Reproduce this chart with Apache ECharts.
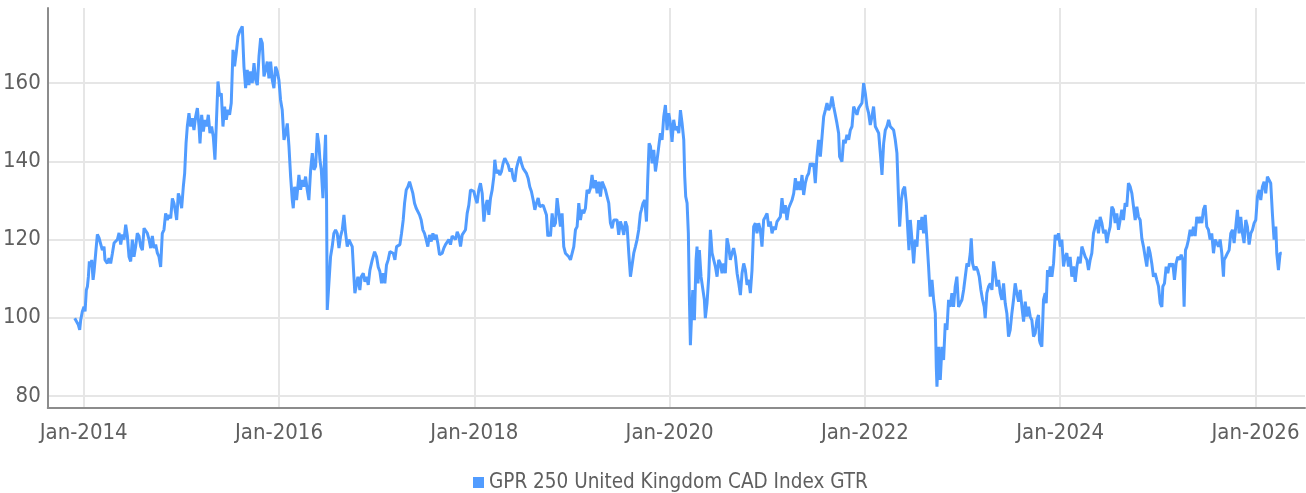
<!DOCTYPE html>
<html>
<head>
<meta charset="utf-8">
<title>GPR 250 United Kingdom CAD Index GTR</title>
<script src="https://cdn.jsdelivr.net/npm/echarts@6.0.0/dist/echarts.min.js"></script>
<style>
  html, body { margin: 0; padding: 0; background: #fff; }
  #main { width: 1306px; height: 493px; }
</style>
</head>
<body>
<div id="main"></div>
<script>
// index level, x = decimal year
var seg2014 = [[2013.908,99.9],[2013.928,99.0],[2013.945,98.2],[2013.959,96.9],[2013.969,99.4],[2013.986,101.6],[2014.003,102.8],[2014.014,101.6],[2014.027,107.1],[2014.038,108],[2014.048,110.5],[2014.058,114.4],[2014.072,113],[2014.082,114.8],[2014.096,109.7],[2014.106,111.8],[2014.123,116.6],[2014.140,121.3],[2014.157,120.4],[2014.174,120.4],[2014.191,117.3],[2014.208,118.2],[2014.218,114.8],[2014.242,113.9],[2014.259,115.2],[2014.276,113.9],[2014.294,116.5],[2014.311,119.1],[2014.328,119.6],[2014.345,120],[2014.362,121.7],[2014.379,118.7],[2014.396,121.3],[2014.413,120],[2014.430,123.8],[2014.447,120.9],[2014.464,115.6],[2014.481,114.4],[2014.498,120],[2014.515,115.6],[2014.532,118.2],[2014.549,121.6],[2014.566,120.9],[2014.584,118.2],[2014.601,117.3],[2014.618,122.9],[2014.635,123.3],[2014.652,121.6],[2014.669,120],[2014.686,117.8],[2014.703,120.9],[2014.720,117.8],[2014.737,118.7],[2014.754,116.6],[2014.771,115.6],[2014.788,113],[2014.805,121.6],[2014.822,122.5],[2014.839,126.7],[2014.856,125],[2014.874,126.3],[2014.891,125.4],[2014.908,130.5],[2014.925,129.2],[2014.942,126.7],[2014.952,125],[2014.969,131.8],[2014.986,130.5],[2015.003,128],[2015.020,133.5],[2015.034,137],[2015.048,144.6],[2015.061,148.9],[2015.078,152.3],[2015.095,148.9],[2015.112,151],[2015.129,148],[2015.146,151.4],[2015.164,153.6],[2015.181,148.9],[2015.191,144.6],[2015.208,151.9],[2015.225,147.6],[2015.242,150.6],[2015.259,148.9],[2015.276,151.9],[2015.293,147.2],[2015.310,148.9],[2015.327,146.3],[2015.344,140.4],[2015.358,149.4],[2015.375,160.4],[2015.392,156.6],[2015.409,157.4],[2015.426,148.9],[2015.443,154],[2015.460,150.6],[2015.477,153.2],[2015.494,151.9],[2015.511,154.9],[2015.529,168.5],[2015.545,164.3],[2015.562,167.7],[2015.580,171.9],[2015.597,173.2]]

var seg2016 = [[2015.624,174.5],[2015.641,164.2],[2015.658,158.7],[2015.675,163.4],[2015.692,159.5],[2015.709,163],[2015.726,160],[2015.744,165.1],[2015.761,160.8],[2015.778,159.5],[2015.795,166.8],[2015.812,171.5],[2015.829,170.2],[2015.846,161.7],[2015.863,163.4],[2015.880,165.5],[2015.897,161.2],[2015.914,165.5],[2015.931,160.8],[2015.948,158.7],[2015.965,164.2],[2015.982,163],[2015.999,160.8],[2016.016,155.7],[2016.033,153.1],[2016.051,145.5],[2016.068,147.2],[2016.085,149.7],[2016.102,143.8],[2016.119,136.1],[2016.136,130.1],[2016.146,128],[2016.160,133.5],[2016.180,130.1],[2016.204,136.5],[2016.221,132.7],[2016.238,135.2],[2016.255,133.5],[2016.272,136.1],[2016.289,132.7],[2016.306,130.1],[2016.324,137.8],[2016.341,142.1],[2016.358,137.8],[2016.375,138.7],[2016.392,147.2],[2016.409,144.2],[2016.419,140.4],[2016.433,137.8],[2016.450,130.6],[2016.467,141.2],[2016.477,146.8],[2016.487,130.1],[2016.494,102],[2016.511,101.6],[2016.528,115.6],[2016.545,118.2],[2016.562,121.6],[2016.579,122.5],[2016.596,121.6],[2016.614,117.8],[2016.631,120.9],[2016.648,122.5],[2016.665,126.3],[2016.682,121.6],[2016.699,118.2],[2016.716,120],[2016.733,120.4],[2016.750,118.2],[2016.767,110.5],[2016.777,106.3],[2016.794,106.3],[2016.808,110.5],[2016.828,107.1],[2016.842,110.5],[2016.863,111.4],[2016.880,109.2],[2016.897,110.5],[2016.914,108.4],[2016.931,112.2],[2016.955,114.8],[2016.979,116.9],[2016.999,115.6],[2017.016,113],[2017.033,111.8],[2017.050,108.8],[2017.067,111.4],[2017.084,108.8],[2017.101,113.5],[2017.118,114.8],[2017.136,116.9],[2017.153,117.3],[2017.170,116.5],[2017.187,114.8],[2017.204,118.2],[2017.221,117.8],[2017.238,118.7],[2017.255,121.6],[2017.272,125],[2017.286,129.3],[2017.303,132.7],[2017.320,133.5],[2017.337,134.8],[2017.354,134.4],[2017.371,131.8],[2017.388,129.3],[2017.405,128],[2017.422,128.4],[2017.439,126.3],[2017.456,125],[2017.473,122.5],[2017.490,121.6],[2017.507,120],[2017.524,118.2],[2017.541,121.2],[2017.559,119.5],[2017.576,121.6],[2017.593,120],[2017.610,121.2],[2017.627,119],[2017.644,116.1]]

var seg2018 = [[2017.671,116.5],[2017.688,117.8],[2017.705,118.7],[2017.722,118.2],[2017.739,120],[2017.756,118.7],[2017.773,120.9],[2017.791,120.4],[2017.808,120],[2017.825,122],[2017.842,120.9],[2017.859,118.2],[2017.876,121.2],[2017.893,120.9],[2017.910,122.5],[2017.927,126.7],[2017.944,128.8],[2017.961,132.7],[2017.978,133.1],[2017.995,132.3],[2018.012,130.6],[2018.029,129.3],[2018.046,132.7],[2018.063,134.4],[2018.081,131.8],[2018.098,124.6],[2018.115,128.4],[2018.132,130.1],[2018.149,126.3],[2018.166,130.6],[2018.183,132.7],[2018.200,136.1],[2018.210,140.4],[2018.227,136.9],[2018.244,137.8],[2018.261,136.5],[2018.278,137.4],[2018.295,139.5],[2018.312,140.8],[2018.330,139.9],[2018.347,139.1],[2018.364,137.4],[2018.381,138.2],[2018.398,135.7],[2018.415,134.8],[2018.432,138.2],[2018.449,139.9],[2018.466,141.2],[2018.483,139.5],[2018.500,138.2],[2018.517,137.8],[2018.534,136.9],[2018.551,135.7],[2018.568,133.5],[2018.585,132.3],[2018.603,130.1],[2018.620,127.6],[2018.637,129.3],[2018.654,130.6],[2018.671,128.4],[2018.688,128.8],[2018.705,128.8],[2018.722,128.4],[2018.739,126.3],[2018.753,120.8],[2018.770,122],[2018.780,120.8],[2018.797,126.7],[2018.814,123.3],[2018.831,124.2],[2018.848,130.6],[2018.865,131],[2018.882,123.3],[2018.899,126.7],[2018.916,118.2],[2018.933,116.5],[2018.951,116.5],[2018.968,115.6],[2018.985,114.8],[2019.002,114.8],[2019.019,118.2],[2019.036,122.5],[2019.053,123.3],[2019.070,129.3],[2019.087,125],[2019.104,127.6],[2019.121,126.7],[2019.138,128],[2019.155,132.7],[2019.172,131.8],[2019.189,133.1],[2019.206,136.5],[2019.223,133.1],[2019.240,135.2],[2019.258,131.8],[2019.275,134.8],[2019.292,131],[2019.309,134.8],[2019.326,134.4],[2019.343,132.7],[2019.360,131],[2019.377,129.3],[2019.394,124.2],[2019.411,122.9],[2019.428,125],[2019.445,124.6],[2019.462,125],[2019.479,121.2],[2019.496,124.6],[2019.513,123.3],[2019.531,121.2],[2019.548,124.6],[2019.565,123.3],[2019.582,116.5],[2019.599,110.5],[2019.616,110.9],[2019.633,116.5],[2019.650,118.2],[2019.667,120],[2019.684,122.5],[2019.701,126.7]]

var seg2020 = [[2019.711,127.6],[2019.728,129.3],[2019.746,130.1],[2019.763,124.6],[2019.776,135.2],[2019.790,144.6],[2019.804,143.8],[2019.821,139.5],[2019.838,142.9],[2019.855,137.4],[2019.872,140.4],[2019.889,143.8],[2019.906,147.2],[2019.923,145.5],[2019.940,151.4],[2019.957,154.4],[2019.974,148],[2019.991,152.3],[2020.008,149.7],[2020.025,145],[2020.042,150.6],[2020.059,148],[2020.076,148.9],[2020.094,147.2],[2020.111,153.1],[2020.128,149.7],[2020.145,145.5],[2020.155,136.1],[2020.165,131],[2020.179,129.3],[2020.192,121.6],[2020.203,104.6],[2020.213,93],[2020.223,99.4],[2020.237,107.1],[2020.254,99.4],[2020.271,114.8],[2020.281,118.2],[2020.291,108.8],[2020.305,117.3],[2020.322,110.5],[2020.339,110.5],[2020.356,104.6],[2020.366,99.9],[2020.383,103.7],[2020.401,110.5],[2020.418,122.5],[2020.435,116.5],[2020.452,114.8],[2020.469,113.1],[2020.486,110.5],[2020.503,114.8],[2020.520,113.9],[2020.537,111.4],[2020.554,113.9],[2020.571,111.4],[2020.588,120.3],[2020.605,118.2],[2020.622,114.8],[2020.639,116.5],[2020.656,117.8],[2020.674,115.6],[2020.691,111.4],[2020.708,108.8],[2020.725,105.8],[2020.742,111.4],[2020.759,113.9],[2020.776,112.2],[2020.793,108.4],[2020.810,109.7],[2020.827,106.3],[2020.844,112.2],[2020.861,123.3],[2020.878,124.2],[2020.895,121.6],[2020.912,124.2],[2020.929,122.5],[2020.946,118.2],[2020.963,125],[2020.980,125.8],[2020.998,126.7],[2021.015,123.3],[2021.032,124.6],[2021.049,121.6],[2021.066,123.3],[2021.083,122.5],[2021.100,124.6],[2021.117,124.2],[2021.134,125.8],[2021.151,130.6],[2021.168,126.7],[2021.185,128.8],[2021.202,125],[2021.219,128],[2021.236,127.6],[2021.254,130.1],[2021.271,131.8],[2021.288,135.7],[2021.305,132.7],[2021.322,134.8],[2021.339,132.7],[2021.356,136.5],[2021.373,131.4],[2021.390,134.4],[2021.407,136.1],[2021.424,136.9],[2021.441,139.5],[2021.458,138.7],[2021.475,139.5],[2021.492,134.4],[2021.509,141.2],[2021.526,145.5],[2021.544,141.2],[2021.561,146.3],[2021.578,151.4],[2021.595,153.1],[2021.612,154.9],[2021.629,153.1],[2021.646,154],[2021.663,156.6],[2021.680,154],[2021.697,151.9],[2021.714,149.7],[2021.731,147.2],[2021.741,141.2]]

var seg2022 = [[2021.765,139.9],[2021.782,145.5],[2021.799,144.6],[2021.816,146.8],[2021.834,145.5],[2021.851,148],[2021.868,148.9],[2021.885,154],[2021.902,154.4],[2021.919,151.9],[2021.936,153.6],[2021.953,153.1],[2021.970,154.9],[2021.987,160],[2022.004,157.4],[2022.021,154],[2022.038,152.3],[2022.055,149.3],[2022.072,151.4],[2022.089,154],[2022.107,148.9],[2022.124,149.3],[2022.141,147.2],[2022.158,142.1],[2022.175,136.5],[2022.192,144.6],[2022.209,148],[2022.226,148.9],[2022.243,150.6],[2022.260,148.9],[2022.277,149.3],[2022.294,148],[2022.311,145.5],[2022.328,142.1],[2022.345,130.1],[2022.356,123.3],[2022.373,130.1],[2022.390,132.7],[2022.407,133.5],[2022.424,129.3],[2022.441,121.6],[2022.451,117.3],[2022.465,125],[2022.482,120],[2022.499,113.9],[2022.516,120],[2022.533,118.2],[2022.550,125],[2022.567,122.5],[2022.584,125.8],[2022.601,121.6],[2022.618,126.3],[2022.635,120],[2022.652,113.1],[2022.669,105.4],[2022.687,109.7],[2022.704,104.6],[2022.721,101.1],[2022.731,87.5],[2022.738,82.4],[2022.755,92.6],[2022.772,84.1],[2022.789,92.6],[2022.806,89.2],[2022.823,98.6],[2022.840,96.9],[2022.857,104.6],[2022.874,102.8],[2022.891,106.3],[2022.908,102.8],[2022.925,108],[2022.942,110.5],[2022.959,102.8],[2022.977,102.8],[2022.994,104.6],[2023.011,107.1],[2023.028,110.5],[2023.045,113.9],[2023.062,113.1],[2023.079,116.5],[2023.089,120.3],[2023.103,113.9],[2023.120,112.2],[2023.137,113.1],[2023.154,112.2],[2023.171,110.5],[2023.188,107.1],[2023.205,104.6],[2023.222,102.8],[2023.232,99.9],[2023.249,106.3],[2023.267,108],[2023.284,108.8],[2023.301,107.1],[2023.318,114.4],[2023.335,111.4],[2023.352,108],[2023.369,109.7],[2023.386,106.3],[2023.403,104.6],[2023.420,108.8],[2023.437,103.7],[2023.454,101.1],[2023.471,95.2],[2023.488,96.9],[2023.505,101.1],[2023.522,104.6],[2023.539,108.8],[2023.556,106.3],[2023.574,104.1],[2023.591,107.1],[2023.608,102.8],[2023.625,99],[2023.642,104.1],[2023.659,100.3],[2023.676,102.8],[2023.693,100.3],[2023.710,99.4],[2023.727,95.2],[2023.744,96],[2023.761,99.4],[2023.778,100.7],[2023.788,94.3]]

var seg2024 = [[2023.795,93.5],[2023.812,92.6],[2023.829,104.6],[2023.846,106.3],[2023.857,103.7],[2023.870,112.2],[2023.884,110.5],[2023.898,113.1],[2023.915,110.5],[2023.932,113.9],[2023.949,121.2],[2023.966,119.9],[2023.983,121.6],[2024.000,118.2],[2024.017,120],[2024.034,113.1],[2024.051,115.6],[2024.068,116.5],[2024.085,113.1],[2024.102,115.6],[2024.119,110.5],[2024.137,113.1],[2024.154,109.2],[2024.171,113.1],[2024.188,115.6],[2024.205,113.9],[2024.222,118.2],[2024.239,117.8],[2024.256,115.6],[2024.273,114.8],[2024.290,112.2],[2024.307,114.8],[2024.324,116.5],[2024.341,121.6],[2024.358,121.6],[2024.375,125],[2024.392,121.6],[2024.409,125.8],[2024.427,124.2],[2024.444,121.6],[2024.461,122.5],[2024.478,119.1],[2024.495,121.6],[2024.512,123.3],[2024.529,128.4],[2024.546,127.6],[2024.563,124.2],[2024.580,126.7],[2024.597,122.5],[2024.614,125],[2024.631,127.6],[2024.648,125],[2024.665,129.3],[2024.682,128.4],[2024.699,134.4],[2024.717,133.5],[2024.734,131.8],[2024.751,128.4],[2024.768,125],[2024.785,128.4],[2024.802,125.8],[2024.819,125],[2024.836,120.3],[2024.853,118.2],[2024.870,115.6],[2024.887,113.1],[2024.904,118.2],[2024.921,116.5],[2024.938,113.9],[2024.955,110.5],[2024.972,111.4],[2024.989,109.7],[2025.007,108],[2025.024,103.7],[2025.041,102.8],[2025.051,108],[2025.068,108.8],[2025.085,113.1],[2025.102,111.4],[2025.119,113.9],[2025.136,113.1],[2025.153,113.9],[2025.170,109.7],[2025.187,113.9],[2025.204,115.6],[2025.221,114.8],[2025.239,116.1],[2025.256,114.8],[2025.269,102.8],[2025.283,117.3],[2025.297,118.2],[2025.314,120],[2025.331,122.5],[2025.348,120.9],[2025.365,123.3],[2025.382,120.9],[2025.399,125.8],[2025.416,124.2],[2025.433,125.8],[2025.450,124.2],[2025.467,127.6],[2025.484,128.8],[2025.501,123.3],[2025.518,122.5],[2025.535,120],[2025.552,121.6],[2025.570,116.5],[2025.587,120],[2025.604,119.1],[2025.621,118.2],[2025.638,120],[2025.655,116.5],[2025.672,110.5],[2025.679,114.8],[2025.696,115.6],[2025.713,116.5],[2025.730,117.3],[2025.747,121.6],[2025.764,122.5],[2025.781,119.1],[2025.798,123.3],[2025.815,127.6],[2025.832,121.6],[2025.849,125.8],[2025.866,121.6],[2025.883,119.1],[2025.900,125],[2025.917,123.3],[2025.935,118.7],[2025.952,121.6],[2025.969,122.5],[2025.986,124.2],[2026.003,125],[2026.020,131],[2026.037,132.7],[2026.054,130.1],[2026.071,133.5],[2026.088,134.8],[2026.105,131.8],[2026.122,136.1],[2026.139,135.7],[2026.156,134.4],[2026.173,126.7],[2026.190,120],[2026.208,123.3],[2026.218,116.5],[2026.235,112.2],[2026.252,116.5],[2026.269,116.5]]

var tickYears = [2014, 2016, 2018, 2020, 2022, 2024, 2026]
var yTicks = [80, 100, 120, 140, 160]
var seriesName = 'GPR 250 United Kingdom CAD Index GTR'

var FONT = "'Liberation Sans Narrow', 'DejaVu Sans Condensed', 'Roboto', sans-serif"
var LINE = '#519cff'

var chart = echarts.init(document.getElementById('main'), null, {renderer: 'canvas'})
var option = {
  animation: false,
  backgroundColor: '#fff',
  grid: {left: 47, right: 1, top: 8, bottom: 85},
  legend: {
    top: 467,
    left: 468,
    icon: 'rect',
    itemWidth: 11,
    itemHeight: 11,
    textStyle: {color: '#5f5f5f', fontSize: 20.5, fontFamily: FONT},
    data: [seriesName]
  },
  xAxis: {
    type: 'value',
    min: 2013.632,
    max: 2026.507,
    axisLine: {show: true, onZero: false, lineStyle: {color: '#8c8c8c', width: 2}},
    axisTick: {show: false, customValues: tickYears},
    axisLabel: {
      customValues: tickYears,
      formatter: function (v) { return 'Jan-' + Math.round(v) },
      color: '#5f5f5f', fontSize: 22, fontFamily: FONT, margin: 14
    },
    splitLine: {show: true, lineStyle: {color: '#e6e6e6', width: 2}}
  },
  yAxis: {
    type: 'value',
    min: 76.93,
    max: 179.2,
    axisLine: {show: true, lineStyle: {color: '#8c8c8c', width: 2}},
    axisTick: {show: false, customValues: yTicks},
    axisLabel: {customValues: yTicks, color: '#5f5f5f', fontSize: 22, fontFamily: FONT, margin: 7},
    splitLine: {show: true, lineStyle: {color: '#e6e6e6', width: 2}}
  },
  series: [{
    name: seriesName,
    type: 'line',
    showSymbol: false,
    symbol: 'none',
    color: LINE,
    lineStyle: {color: LINE, width: 3},
    data: [].concat(seg2014, seg2016, seg2018, seg2020, seg2022, seg2024)
  }]
}
chart.setOption(option)
</script>
</body>
</html>
